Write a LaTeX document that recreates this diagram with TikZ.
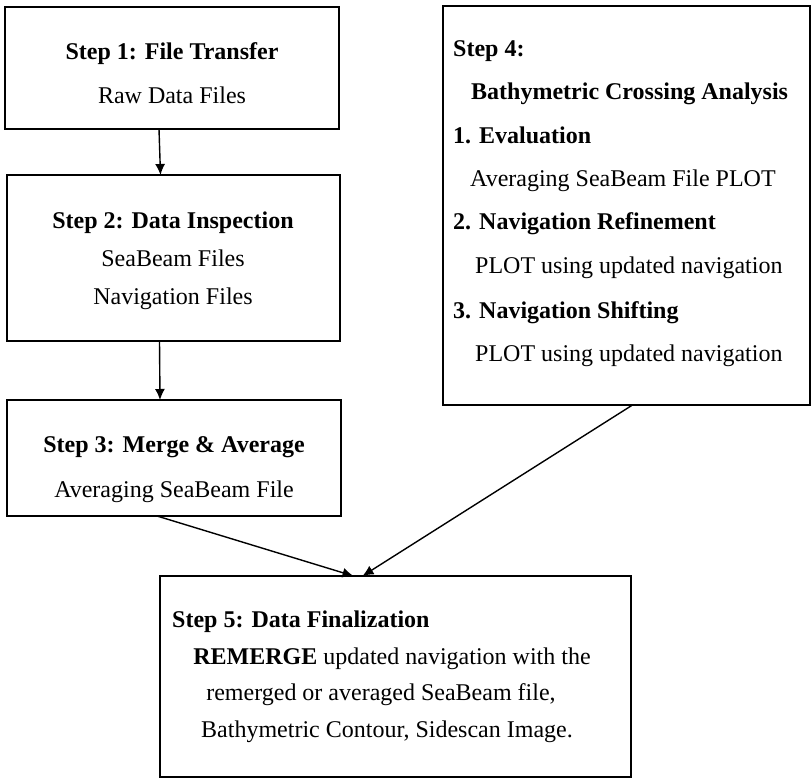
\documentclass[tikz,border=0pt]{standalone}
\usepackage{fontspec}
\setmainfont{Liberation Serif}
\usetikzlibrary{arrows.meta}
\begin{document}
\begin{tikzpicture}[x=1pt,y=-1pt,
 box/.style={draw,line width=1.4pt,rectangle,inner sep=0pt,outer sep=0pt},
 txt/.style={inner sep=0pt,anchor=base,font=\fontsize{24}{28}\selectfont},
 ltxt/.style={txt,anchor=base west},
 arr/.style={line width=1.4pt,-{Latex[length=11pt,width=10pt]}}]
\useasboundingbox (0,0) rectangle (812,778);
% boxes
\node[box,minimum width=334pt,minimum height=122pt] (s1) at (172,68) {};
\node[box,minimum width=333pt,minimum height=166pt] (s2) at (173.5,258) {};
\node[box,minimum width=334pt,minimum height=116pt] (s3) at (174,458) {};
\node[box,minimum width=367pt,minimum height=399pt] (s4) at (626.5,205.5) {};
\node[box,minimum width=471pt,minimum height=201pt] (s5) at (395.5,676.5) {};
% step 1
\node[txt] (t1a) at (172,60) {\textbf{Step 1: File Transfer}};
\node[txt] (t1b) at (172,104) {Raw Data Files};
% step 2
\node[txt] (t2a) at (173,229) {\textbf{Step 2: Data Inspection}};
\node[txt] (t2b) at (173,267) {SeaBeam Files};
\node[txt] (t2c) at (173,305) {Navigation Files};
% step 3
\node[txt] (t3a) at (174,452) {\textbf{Step 3: Merge \& Average}};
\node[txt] (t3b) at (174,497) {Averaging SeaBeam File};
% step 4
\node[ltxt] (t4a) at (453,57) {\textbf{Step 4:}};
\node[ltxt] (t4b) at (471,100) {\textbf{Bathymetric Crossing Analysis}};
\node[ltxt] (t4c) at (453,144) {\textbf{1. Evaluation}};
\node[ltxt] (t4d) at (470,187) {Averaging SeaBeam File PLOT};
\node[ltxt] (t4e) at (453,230) {\textbf{2. Navigation Refinement}};
\node[ltxt] (t4f) at (475,274) {PLOT using updated navigation};
\node[ltxt] (t4g) at (453,319) {\textbf{3. Navigation Shifting}};
\node[ltxt] (t4h) at (475,362) {PLOT using updated navigation};
% step 5
\node[ltxt] (t5a) at (172,627) {\textbf{Step 5: Data Finalization}};
\node[txt] (t5b) at (392,664) {\textbf{REMERGE} updated navigation with the};
\node[txt] (t5c) at (381,700) {remerged or averaged SeaBeam file,};
\node[txt] (t5d) at (387,737) {Bathymetric Contour, Sidescan Image.};
% connectors
\draw[arr] ([xshift=-13pt]s1.south) -- ([xshift=-13pt]s2.north);
\draw[arr] ([xshift=-14pt]s2.south) -- ([xshift=-14pt]s3.north);
\draw[arr] ([xshift=-17pt]s3.south) -- ([xshift=-42pt]s5.north);
\draw[arr] ([xshift=6pt]s4.south) -- ([xshift=-33pt]s5.north);
\end{tikzpicture}
\end{document}
